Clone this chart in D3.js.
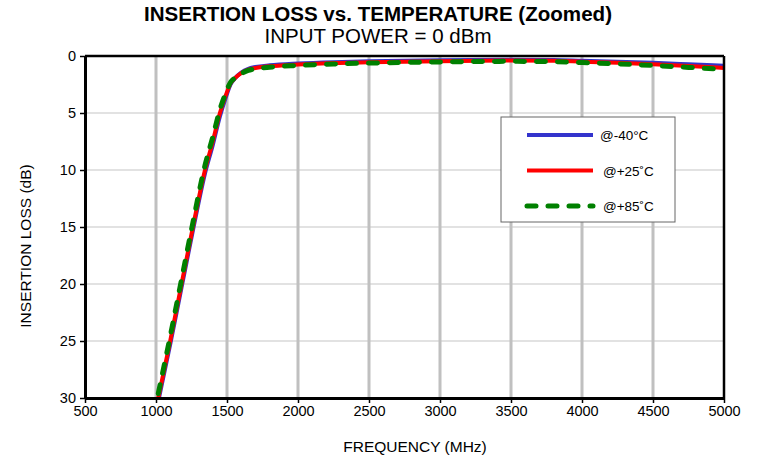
<!DOCTYPE html>
<html>
<head>
<meta charset="utf-8">
<script src="https://cdn.jsdelivr.net/npm/d3@7"></script>
<style>
  body { margin: 0; background: #fff; }
  text { font-family: "Liberation Sans", Arial, sans-serif; }
</style>
</head>
<body>
<script>
// Frequency points (MHz) shared by all three traces
const freqs = [1016, 1100, 1180, 1260, 1345, 1400, 1450, 1490, 1525, 1560, 1600, 1650, 1700,
               1800, 2000, 2250, 2500, 3000, 3500, 3800, 4000, 4250, 4500, 4750, 5000];

// Insertion loss (dB) at each temperature
const lossM40 = [30.3, 25.3, 20.3, 15.3, 10.3, 7.8, 5.3, 3.7, 2.5, 1.9, 1.45, 1.12, 0.97,
                 0.82, 0.66, 0.54, 0.47, 0.37, 0.32, 0.34, 0.41, 0.5, 0.6, 0.72, 0.85];
const lossP25 = [30, 25, 20, 15, 10, 7.5, 5, 3.5, 2.4, 1.9, 1.5, 1.2, 1.05,
                 0.9, 0.75, 0.62, 0.55, 0.45, 0.4, 0.42, 0.5, 0.6, 0.73, 0.88, 1.05];
const lossP85 = [29.6, 24.6, 19.6, 14.6, 9.6, 7.1, 4.7, 3.3, 2.3, 1.9, 1.55, 1.27, 1.13,
                 0.98, 0.83, 0.7, 0.62, 0.52, 0.47, 0.5, 0.58, 0.69, 0.83, 1.0, 1.18];

const seriesNames = ["@-40\u00B0C", "@+25\u02DAC", "@+85\u02DAC"];
const xTicks = [500, 1000, 1500, 2000, 2500, 3000, 3500, 4000, 4500, 5000];
const yTicks = [0, 5, 10, 15, 20, 25, 30];

const width = 759, height = 462;
const margin = { top: 56, right: 35, bottom: 64, left: 85 };

const svg = d3.select("body").append("svg")
    .attr("width", width)
    .attr("height", height);

const xScale = d3.scaleLinear()
    .domain([500, 5000])
    .range([margin.left, width - margin.right]);

const yScale = d3.scaleLinear()
    .domain([0, 30])
    .range([margin.top, height - margin.bottom]);

// Horizontal gridlines (thin)
svg.append("g")
    .selectAll("line")
    .data(yTicks.slice(1, -1))
    .enter()
    .append("line")
    .attr("x1", xScale(500))
    .attr("x2", xScale(5000))
    .attr("y1", d => yScale(d))
    .attr("y2", d => yScale(d))
    .attr("stroke", "#d9d9d9")
    .attr("stroke-width", 1.5);

// Vertical gridlines (thicker)
svg.append("g")
    .selectAll("line")
    .data(xTicks.slice(1, -1))
    .enter()
    .append("line")
    .attr("x1", d => xScale(d))
    .attr("x2", d => xScale(d))
    .attr("y1", yScale(0))
    .attr("y2", yScale(30))
    .attr("stroke", "#c0c0c0")
    .attr("stroke-width", 3);

// Clip the traces to the plot area
svg.append("clipPath")
    .attr("id", "plot-clip")
    .append("rect")
    .attr("x", xScale(500))
    .attr("y", yScale(0))
    .attr("width", xScale(5000) - xScale(500))
    .attr("height", yScale(30) - yScale(0));

const line = d3.line()
    .x(d => xScale(d[0]))
    .y(d => yScale(d[1]))
    .curve(d3.curveMonotoneX);

const series = [
    { name: seriesNames[0], values: lossM40, color: "#3333cc", dash: null, w: 4 },
    { name: seriesNames[1], values: lossP25, color: "#ff0000", dash: null, w: 4 },
    { name: seriesNames[2], values: lossP85, color: "#008000", dash: "9,12", w: 5 }
];

svg.append("g")
    .attr("clip-path", "url(#plot-clip)")
    .selectAll("path")
    .data(series)
    .enter()
    .append("path")
    .attr("d", s => line(freqs.map((f, i) => [f, s.values[i]])))
    .attr("fill", "none")
    .attr("stroke", s => s.color)
    .attr("stroke-width", s => s.w)
    .attr("stroke-linecap", "round")
    .attr("stroke-linejoin", "round")
    .attr("stroke-dasharray", s => s.dash);

// Frame: top and right edges
svg.append("line")
    .attr("x1", xScale(500)).attr("x2", xScale(5000))
    .attr("y1", yScale(0)).attr("y2", yScale(0))
    .attr("stroke", "#000").attr("stroke-width", 2.5);
svg.append("line")
    .attr("x1", xScale(5000)).attr("x2", xScale(5000))
    .attr("y1", yScale(0)).attr("y2", yScale(30))
    .attr("stroke", "#000").attr("stroke-width", 2.5);

// Axes
const xAxis = svg.append("g")
    .attr("transform", `translate(0,${yScale(30)})`)
    .call(d3.axisBottom(xScale).tickValues(xTicks).tickFormat(d3.format("d"))
        .tickSize(5).tickSizeOuter(0));

const yAxis = svg.append("g")
    .attr("transform", `translate(${xScale(500)},0)`)
    .call(d3.axisLeft(yScale).tickValues(yTicks).tickFormat(d3.format("d"))
        .tickSize(5).tickSizeOuter(0));

[xAxis, yAxis].forEach(ax => {
    ax.select(".domain").attr("stroke", "#000").attr("stroke-width", 3);
    ax.selectAll(".tick line").attr("stroke", "#000").attr("stroke-width", 1.5);
    ax.selectAll(".tick text")
        .style("font-family", "'Liberation Sans', Arial, sans-serif")
        .style("font-size", "14.5px")
        .attr("fill", "#000");
});
xAxis.selectAll(".tick text").attr("y", 8);
yAxis.selectAll(".tick text").attr("x", -9);

// Titles
svg.append("text")
    .attr("x", 378)
    .attr("y", 21)
    .attr("text-anchor", "middle")
    .attr("textLength", 468)
    .attr("lengthAdjust", "spacingAndGlyphs")
    .style("font-size", "20px")
    .style("font-weight", "bold")
    .text("INSERTION LOSS vs. TEMPERATURE (Zoomed)");

svg.append("text")
    .attr("x", 378)
    .attr("y", 43)
    .attr("text-anchor", "middle")
    .attr("textLength", 227)
    .attr("lengthAdjust", "spacingAndGlyphs")
    .style("font-size", "20.5px")
    .text("INPUT POWER = 0 dBm");

// Axis labels
svg.append("text")
    .attr("x", 415)
    .attr("y", 452)
    .attr("text-anchor", "middle")
    .style("font-size", "15.5px")
    .text("FREQUENCY (MHz)");

svg.append("text")
    .attr("transform", "translate(31,246) rotate(-90)")
    .attr("text-anchor", "middle")
    .style("font-size", "15.5px")
    .text("INSERTION LOSS (dB)");

// Legend
const legend = svg.append("g").attr("transform", "translate(501,117)");
legend.append("rect")
    .attr("width", 174)
    .attr("height", 105)
    .attr("fill", "#fff")
    .attr("stroke", "#666")
    .attr("stroke-width", 1);

const legendRows = legend.selectAll("g")
    .data(series)
    .enter()
    .append("g")
    .attr("transform", (d, i) => `translate(0,${18 + i * 35.5})`);

legendRows.append("line")
    .attr("x1", 26).attr("x2", 92)
    .attr("y1", 0).attr("y2", 0)
    .attr("stroke", d => d.color)
    .attr("stroke-width", d => d.w)
    .attr("stroke-linecap", d => d.dash ? "round" : "butt")
    .attr("stroke-dasharray", d => d.dash);

legendRows.append("text")
    .attr("x", (d, i) => i === 0 ? 99 : 102)
    .attr("y", 5)
    .style("font-size", "13.5px")
    .text(d => d.name);
</script>
</body>
</html>
